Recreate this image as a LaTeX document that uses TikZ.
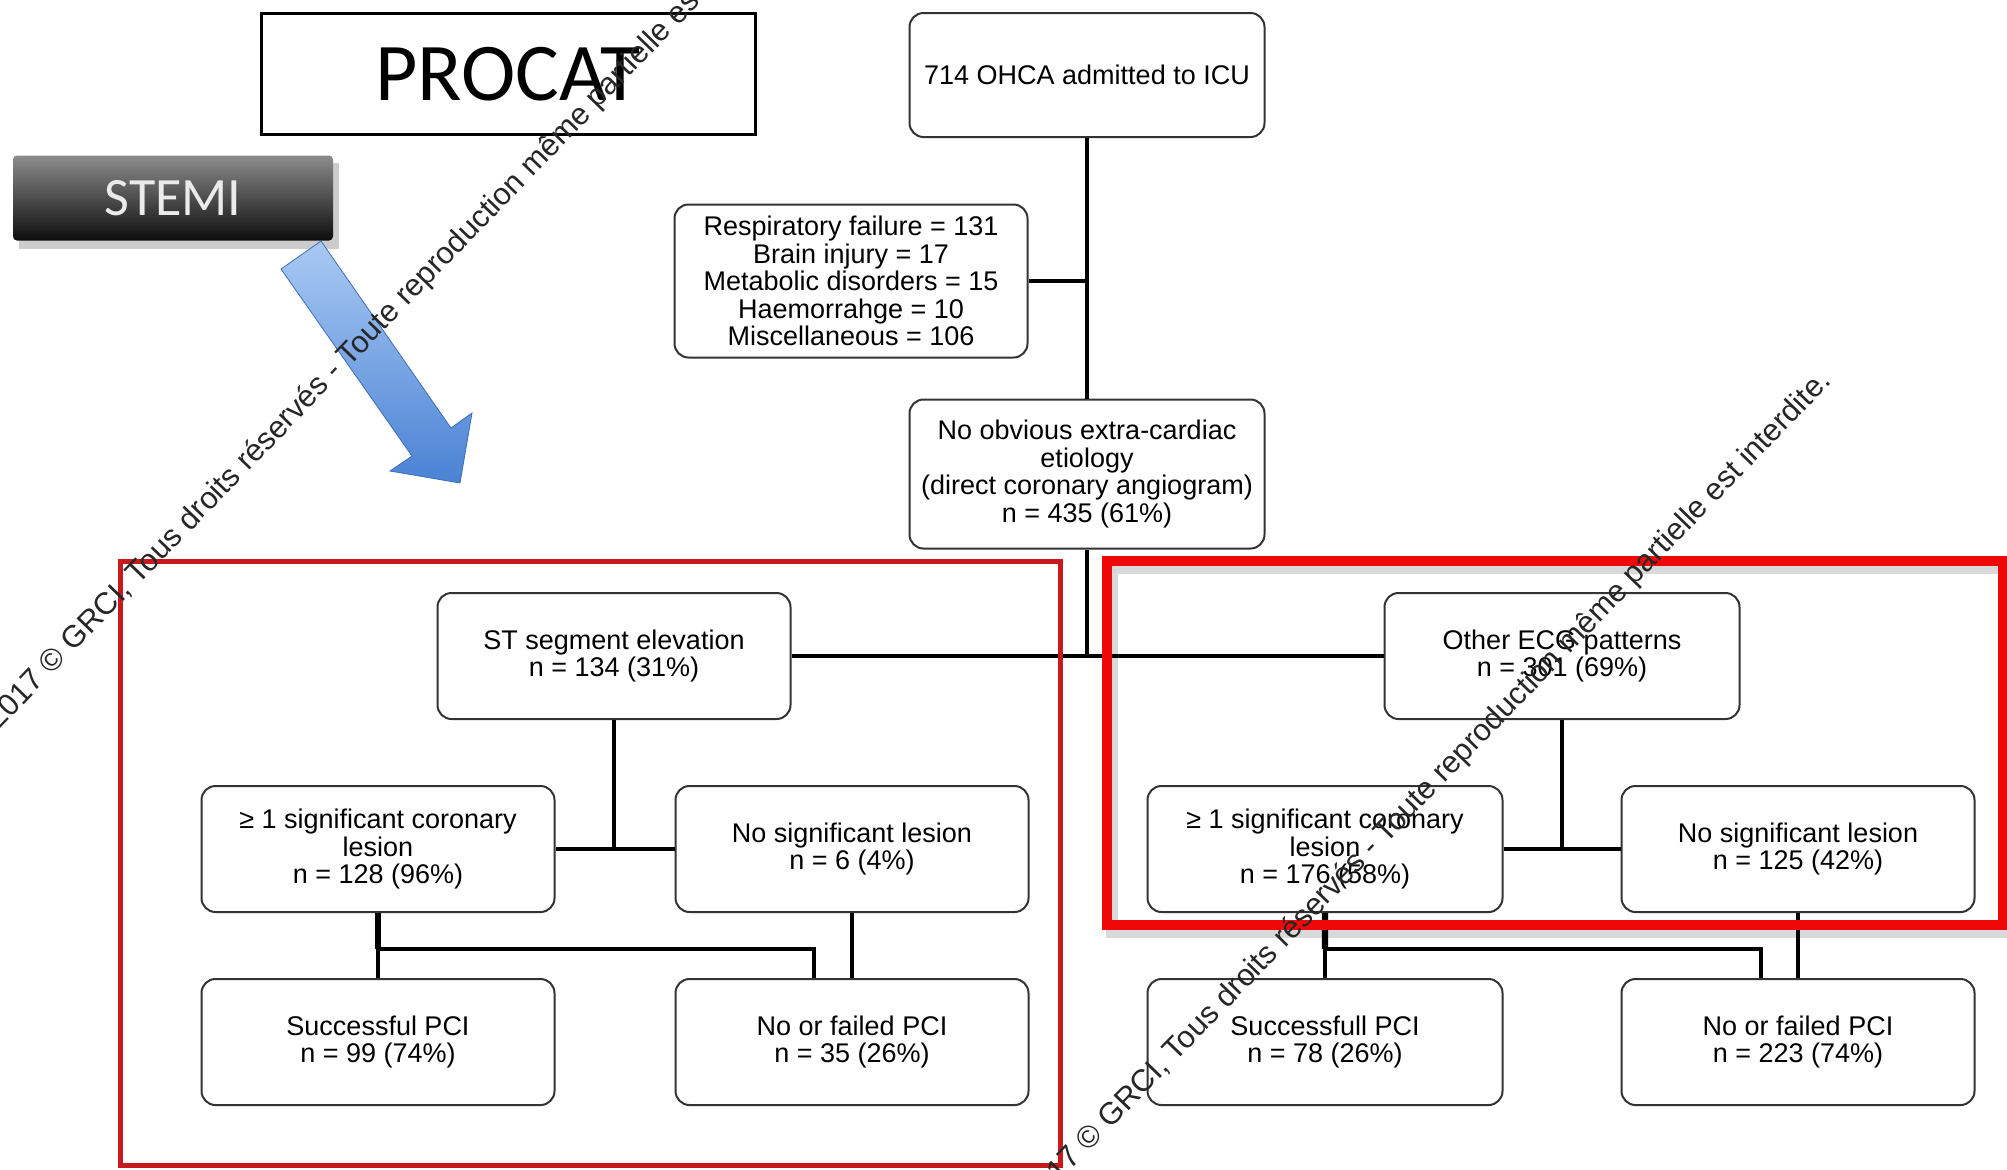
\documentclass[tikz,border=0pt]{standalone}
\usepackage{fontspec}
\setmainfont{Liberation Sans}
\newfontfamily\calfont{Carlito}
\usetikzlibrary{calc}
\definecolor{framered}{HTML}{C81A1E}
\definecolor{brightred}{HTML}{EE0808}
\definecolor{boxline}{HTML}{333333}
\definecolor{arrowlight}{HTML}{A9C9F3}
\definecolor{arrowdark}{HTML}{4A82D4}

\begin{document}
\begin{tikzpicture}[x=0.5pt, y=-0.5pt,
    flowbox/.style={draw=boxline, line width=1pt, rounded corners=7pt, fill=white,
      align=center, inner sep=0pt, minimum width=176.5pt, minimum height=63pt,
      font=\fontsize{13.5}{13.8}\selectfont},
    link/.style={line width=2.2pt},
    stamp/.style={font=\fontsize{15.4}{15.4}\selectfont, text=black!85, anchor=base west, rotate=46, inner sep=0pt}]
  \useasboundingbox (0,0) rectangle (2007,1169);

  % titles
  \node[draw, line width=1.5pt, minimum width=247pt, minimum height=60.5pt, inner sep=0pt,
    font=\calfont\fontsize{41}{41}\selectfont] (title) at (508,74) {PROCAT};
  \fill[black, opacity=0.2] (19,163) rectangle (339,249);
  \node[rounded corners=2pt, top color=black!45, middle color=black!72, bottom color=black!95,
    minimum width=160pt, minimum height=42.5pt, inner sep=0pt, text=white!92!black,
    font=\calfont\fontsize{27}{27}\selectfont] (stemi) at (173,198) {STEMI};
  \draw[draw=arrowdark!85!black, line width=0.4pt, top color=arrowlight, bottom color=arrowdark]
    (281,269) -- (321,241) -- (451,428) -- (472,413) -- (460,483)
    -- (390,471) -- (412,456) -- cycle;

  % main chain
  \node[flowbox, minimum width=177.5pt, minimum height=62pt] (ohca) at (1087,75) {714 OHCA admitted to ICU};
  \node[flowbox, minimum height=76.5pt] (excl) at (851,281)
    {Respiratory failure = 131\\Brain injury = 17\\Metabolic disorders = 15\\Haemorrahge = 10\\Miscellaneous = 106};
  \node[flowbox, minimum width=177.5pt, minimum height=74.5pt] (noobv) at (1087,474)
    {No obvious extra-cardiac\\etiology\\(direct coronary angiogram)\\n = 435 (61\%)};
  \node[flowbox] (st) at (614,656) {ST segment elevation\\n = 134 (31\%)};
  \node[flowbox, minimum width=177.5pt] (other) at (1562,656) {Other ECG patterns\\n = 301 (69\%)};

  % STEMI branch
  \node[flowbox] (lles) at (378,849) {≥ 1 significant coronary\\lesion\\n = 128 (96\%)};
  \node[flowbox] (lnosig) at (852,849) {No significant lesion\\n = 6 (4\%)};
  \node[flowbox] (lsucc) at (378,1042) {Successful PCI\\n = 99 (74\%)};
  \node[flowbox] (lfail) at (852,1042) {No or failed PCI\\n = 35 (26\%)};

  % other ECG branch
  \node[flowbox, minimum width=177.5pt] (rles) at (1325,849) {≥ 1 significant coronary\\lesion\\n = 176 (58\%)};
  \node[flowbox] (rnosig) at (1798,849) {No significant lesion\\n = 125 (42\%)};
  \node[flowbox, minimum width=177.5pt] (rsucc) at (1325,1042) {Successfull PCI\\n = 78 (26\%)};
  \node[flowbox] (rfail) at (1798,1042) {No or failed PCI\\n = 223 (74\%)};

  % connectors
  \draw[link] (ohca.south) -- (noobv.north);
  \draw[link, line width=1.6pt] (excl.east) -- (excl.east -| ohca.south);
  \draw[link] (noobv.south) -- (noobv.south |- st.east);
  \draw[link] (st.east) -- (other.west);
  \draw[link] (st.south) -- (st.south |- lles.east);
  \draw[link] (lles.east) -- (lnosig.west);
  \draw[link] (other.south) -- (other.south |- rles.east);
  \draw[link] (rles.east) -- (rnosig.west);

  \coordinate (lbar) at ($(lles.south)!0.55!(lsucc.north)$);
  \draw[link, line width=3.2pt] (lles.south) -- (lbar);
  \draw[link] (lles.south) -- (lsucc.north);
  \draw[link] (lbar) -| ([xshift=-19pt]lfail.north);
  \draw[link] (lnosig.south) -- (lfail.north);

  \coordinate (rbar) at ($(rles.south)!0.55!(rsucc.north)$);
  \draw[link, line width=3.2pt] (rles.south) -- (rbar);
  \draw[link] (rles.south) -- (rsucc.north);
  \draw[link] (rbar) -| ([xshift=-18.5pt]rfail.north);
  \draw[link] (rnosig.south) -- (rfail.north);

  % red frames
  \draw[framered, line width=2.5pt] (120,561) rectangle (1060,1165);
  \draw[black, opacity=0.15, line width=6pt] (1112,568) rectangle (2010,932);
  \draw[brightred, line width=5pt] (1107,561) rectangle (2003,925);

  % watermark
  \begin{scope}
    \clip (0,0) rectangle (2007,1169);
    \node[stamp] (wmleft) at (-2,731) {2017 © GRCI, Tous droits réservés - Toute reproduction même partielle est interdite.};
    \node[stamp] (wmright) at (1035,1208) {2017 © GRCI, Tous droits réservés - Toute reproduction même partielle est interdite.};
  \end{scope}
\end{tikzpicture}
\end{document}
